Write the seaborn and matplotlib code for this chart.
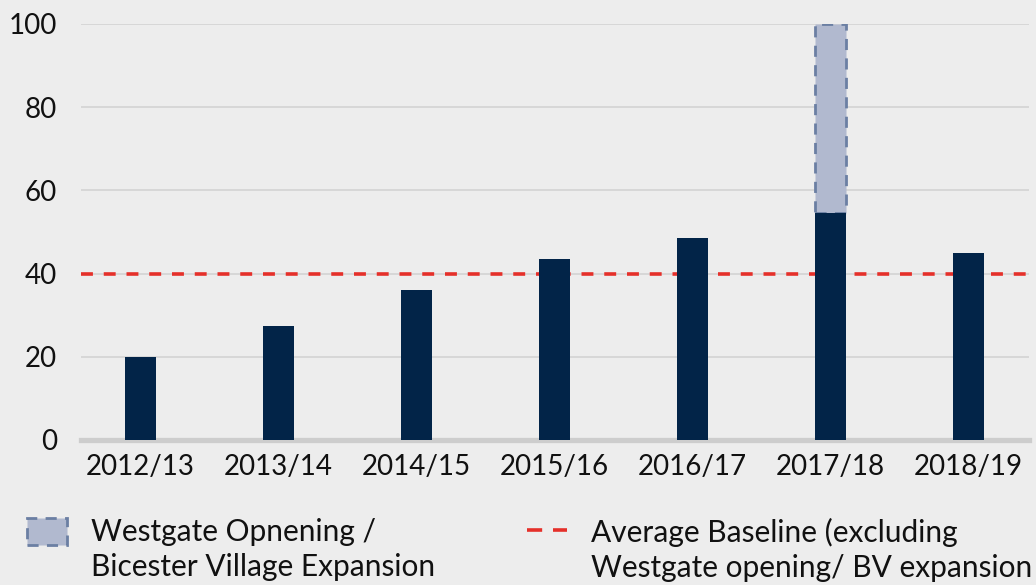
import matplotlib
matplotlib.use("Agg")
import matplotlib.pyplot as plt
from matplotlib.patches import Patch
from matplotlib.lines import Line2D
import pandas as pd
import seaborn as sns

years = ["2012/13", "2013/14", "2014/15", "2015/16", "2016/17", "2017/18", "2018/19"]
values = [20.0, 27.5, 36.0, 43.5, 48.5, 54.5, 45.0]
extra_year = ["2017/18"]
extra_value = [45.5]
baseline = 40
yticks = [0, 20, 40, 60, 80, 100]
label_extra = "Westgate Opnening /\nBicester Village Expansion"
label_base = "Average Baseline (excluding\nWestgate opening/ BV expansion"

bg = "#ededed"
navy = "#022448"
light = "#b1b9cf"
light_edge = "#6b7fa3"
red = "#e5302a"

sns.set_theme(style="white")
plt.rcParams["font.family"] = ["Lato", "DejaVu Sans"]

df = pd.DataFrame({"year": years, "value": values})
df_extra = pd.DataFrame({"year": extra_year, "value": extra_value})

fig = plt.figure(figsize=(10.36, 5.85), dpi=100, facecolor=bg)
ax = fig.add_axes([0.078, 0.248, 0.915, 0.711])
ax.set_facecolor(bg)

# gridlines + average baseline
for t in yticks[1:]:
    ax.axhline(t, color="#d3d3d3", lw=1.2, zorder=0)
ax.axhline(baseline, color=red, lw=2.6, ls=(0, (3.3, 3.0)), zorder=1)

sns.barplot(data=df, x="year", y="value", order=years, color=navy,
            width=0.225, saturation=1, ax=ax, zorder=3, linewidth=0)
sns.barplot(data=df_extra, x="year", y="value", order=years, color=light,
            width=0.225, saturation=1, ax=ax, zorder=2,
            bottom=values[years.index("2017/18")],
            edgecolor=light_edge, linewidth=2, linestyle=(0, (4, 3)))

ax.set_xlim(-0.431, 6.438)
ax.set_ylim(0, 100)
ax.set_yticks(yticks)
ax.set_xlabel("")
ax.set_ylabel("")
for s in ["top", "right", "left"]:
    ax.spines[s].set_visible(False)
ax.spines["bottom"].set_color("#cdcdcd")
ax.spines["bottom"].set_linewidth(3.8)
ax.tick_params(axis="y", length=0, pad=17, labelsize=20, labelcolor="#111111")
ax.tick_params(axis="x", length=0, pad=10, labelsize=20, labelcolor="#111111")

h1 = Patch(facecolor=light, edgecolor=light_edge, linewidth=2, linestyle=(0, (4, 3)))
h2 = Line2D([0], [0], color=red, lw=2.6, ls=(0, (4.2, 3.0)))
leg_kw = dict(loc="upper left", frameon=False, fontsize=21.5, handlelength=1.34,
              handleheight=1.0, handletextpad=0.8, borderaxespad=0,
              labelcolor="#111111")
leg1 = fig.legend([h1], [label_extra], bbox_to_anchor=(0.015, 0.135), **leg_kw)
leg2 = fig.legend([h2], [label_base], bbox_to_anchor=(0.497, 0.135), **leg_kw)

# put the legend key next to the first text line
for leg in (leg1, leg2):
    for col in leg._legend_handle_box.get_children():
        for item in col.get_children():
            item.align = "top"
    for txt in leg.get_texts():
        txt.set_linespacing(1.3)

fig.savefig("out.png", dpi=100, facecolor=bg)
